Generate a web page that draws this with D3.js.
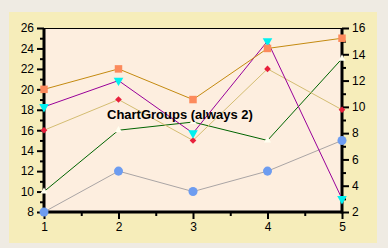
<!DOCTYPE html>
<html>
<head>
<meta charset="utf-8">
<script src="https://cdn.jsdelivr.net/npm/d3@7"></script>
<style>
  body { margin: 0; background: #efebe3; }
  svg { display: block; font-family: "Liberation Sans", Arial, sans-serif; }
</style>
</head>
<body>
<script>
// chart values
const xValues = [1, 2, 3, 4, 5];
const squareSeries = [20, 22, 19, 24, 25];     // left axis
const triangleSeries = [10, 12, 8, 15, 3];     // right axis
const diamondSeries = [16, 19, 15, 22, 18];    // left axis
const greenSeries = [10, 16, 16.8, 15, 23];    // left axis
const circleSeries = [8, 12, 10, 12, 15];      // left axis
const leftTicks = [8, 10, 12, 14, 16, 18, 20, 22, 24, 26];
const rightTicks = [2, 4, 6, 8, 10, 12, 14, 16];
const title = 'ChartGroups (always 2)';

const w = 388;
const h = 248;
const plotL = 44, plotR = 342, plotT = 28, plotB = 212;

const svg = d3.select('body').append('svg')
	.attr('width', w)
	.attr('height', h);

svg.append('rect').attr('width', w).attr('height', h).attr('fill', '#efebe3');
svg.append('rect')
	.attr('x', 9).attr('y', 12)
	.attr('width', 368).attr('height', 231)
	.attr('fill', '#f6edba');
svg.append('rect')
	.attr('x', plotL).attr('y', plotT)
	.attr('width', plotR - plotL).attr('height', plotB - plotT)
	.attr('fill', '#fdeedf');

const x = d3.scaleLinear().domain([1, 5]).range([plotL, plotR]);
const yL = d3.scaleLinear().domain([8, 26]).range([plotB, plotT]);
const yR = d3.scaleLinear().domain([2, 16]).range([plotB, plotT]);

// top frame line
svg.append('line')
	.attr('x1', plotL).attr('x2', plotR)
	.attr('y1', plotT + 0.5).attr('y2', plotT + 0.5)
	.attr('stroke', '#000');

function styleAxis(g) {
	g.selectAll('.domain').remove();
	g.selectAll('.tick line').attr('stroke', '#000').attr('stroke-width', 2);
	g.selectAll('.tick text').attr('fill', '#000').style('font-size', '12px');
}

// minor ticks
svg.append('g').attr('transform', `translate(${plotL},0)`)
	.call(d3.axisLeft(yL).tickValues(d3.range(9, 26, 2)).tickSize(4).tickFormat(''))
	.call(styleAxis);
svg.append('g').attr('transform', `translate(${plotR},0)`)
	.call(d3.axisRight(yR).tickValues(d3.range(3, 16, 2)).tickSize(4).tickFormat(''))
	.call(styleAxis);
svg.append('g').attr('transform', `translate(0,${plotB})`)
	.call(d3.axisBottom(x).tickValues([1.5, 2.5, 3.5, 4.5]).tickSize(4).tickFormat(''))
	.call(styleAxis);

// major ticks
svg.append('g').attr('transform', `translate(${plotL},0)`)
	.call(d3.axisLeft(yL).tickValues(leftTicks).tickSize(7).tickPadding(3))
	.call(styleAxis);
svg.append('g').attr('transform', `translate(${plotR},0)`)
	.call(d3.axisRight(yR).tickValues(rightTicks).tickSize(7).tickPadding(3))
	.call(styleAxis);
svg.append('g').attr('transform', `translate(0,${plotB})`)
	.call(d3.axisBottom(x).tickValues(xValues).tickSize(7).tickPadding(3).tickFormat(d3.format('d')))
	.call(styleAxis);

// axis lines
svg.append('line').attr('x1', plotL).attr('x2', plotL).attr('y1', plotT).attr('y2', plotB + 1.5)
	.attr('stroke', '#000').attr('stroke-width', 3);
svg.append('line').attr('x1', plotR).attr('x2', plotR).attr('y1', plotT).attr('y2', plotB + 1.5)
	.attr('stroke', '#000').attr('stroke-width', 3);
svg.append('line').attr('x1', plotL).attr('x2', plotR).attr('y1', plotB).attr('y2', plotB)
	.attr('stroke', '#000').attr('stroke-width', 3);

const series = [
	{ values: circleSeries, y: yL, line: '#aaa5a5', marker: '#6d9cf0', symbol: d3.symbolCircle, size: 64, rot: 0 },
	{ values: greenSeries, y: yL, line: '#006400', marker: '#fffff0', symbol: d3.symbolTriangle, size: 22, rot: 0 },
	{ values: diamondSeries, y: yL, line: '#d4bd72', marker: '#e8203c', symbol: d3.symbolSquare, size: 22, rot: 45 },
	{ values: triangleSeries, y: yR, line: '#990099', marker: '#00f0f0', symbol: d3.symbolTriangle, size: 40, rot: 180 },
	{ values: squareSeries, y: yL, line: '#c48a10', marker: '#fc8a5c', symbol: d3.symbolSquare, size: 56, rot: 0 },
];

series.forEach(s => {
	const line = d3.line()
		.x((d, i) => x(xValues[i]))
		.y(d => s.y(d));
	svg.append('path')
		.datum(s.values)
		.attr('d', line)
		.attr('fill', 'none')
		.attr('stroke', s.line)
		.attr('stroke-width', 1);
});

series.forEach(s => {
	svg.selectAll(null)
		.data(s.values)
		.enter()
		.append('path')
		.attr('d', d3.symbol().type(s.symbol).size(s.size))
		.attr('transform', (d, i) => `translate(${x(xValues[i])},${s.y(d)}) rotate(${s.rot})`)
		.attr('fill', s.marker);
});

svg.append('text')
	.attr('x', 107)
	.attr('y', 119)
	.attr('font-size', 13)
	.attr('font-weight', 'bold')
	.attr('fill', '#000')
	.text(title);
</script>
</body>
</html>
